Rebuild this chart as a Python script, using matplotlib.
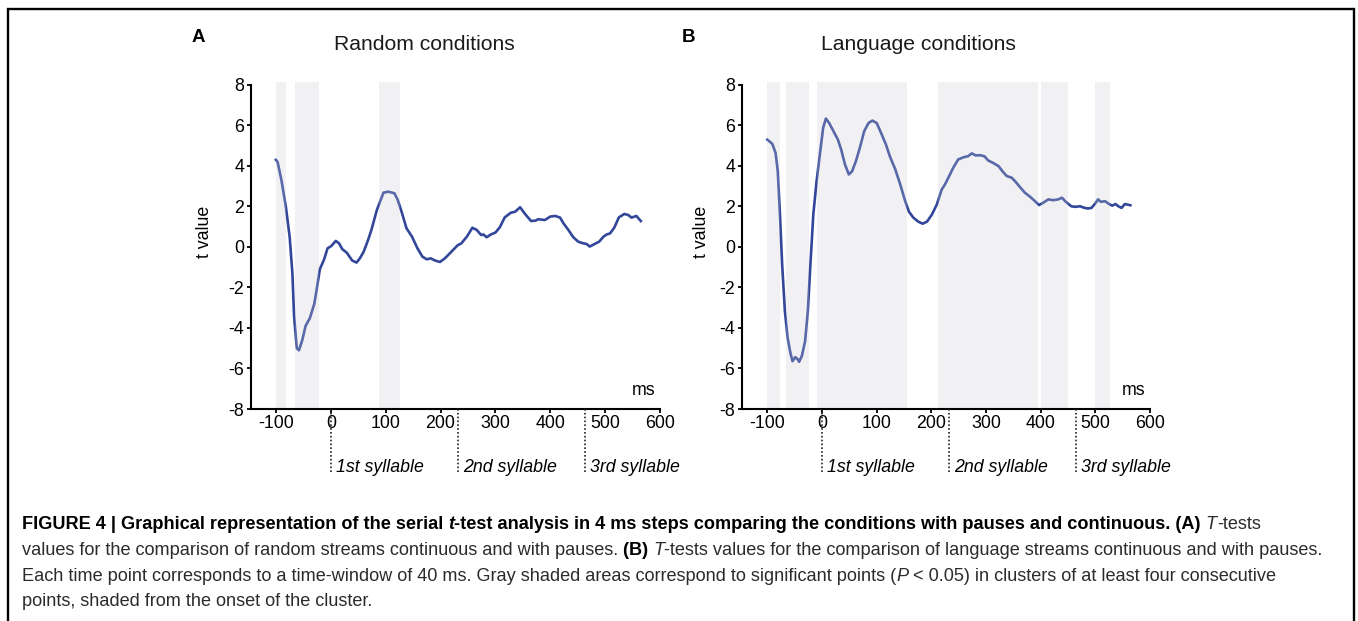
import matplotlib
matplotlib.use('Agg')
import matplotlib.pyplot as plt
from matplotlib.patches import Rectangle
from matplotlib.font_manager import FontProperties

plt.rcParams['font.family'] = ['Liberation Sans', 'DejaVu Sans']

# ---------------- data ----------------
time_A = [-100, -97, -90, -82, -75, -70, -67, -62, -58, -52, -46, -38, -30, -24, -20, -12, -6, 1, 9, 15,
          21, 29, 39, 47, 53, 60, 68, 74, 84, 96, 105, 116, 122, 129, 138, 148, 158, 167, 175, 182,
          190, 199, 208, 220, 231, 238, 248, 258, 266, 274, 278, 284, 292, 300, 308, 317, 328, 336, 345, 354,
          365, 373, 378, 390, 400, 409, 418, 424, 433, 442, 451, 460, 466, 472, 481, 489, 497, 503, 509, 517,
          525, 535, 542, 548, 557, 565]
tval_A = [4.3, 4.2, 3.3, 2.0, 0.5, -1.3, -3.4, -5.0, -5.1, -4.6, -3.9, -3.5, -2.8, -1.8, -1.1, -0.6, -0.07, 0.05, 0.3, 0.18,
          -0.11, -0.28, -0.67, -0.77, -0.56, -0.23, 0.35, 0.84, 1.83, 2.68, 2.73, 2.65, 2.32, 1.74, 0.92, 0.51, -0.07, -0.48, -0.61, -0.56,
          -0.67, -0.74, -0.56, -0.23, 0.08, 0.18, 0.51, 0.95, 0.84, 0.59, 0.62, 0.48, 0.62, 0.71, 0.97, 1.46, 1.69, 1.74, 1.96, 1.63,
          1.28, 1.30, 1.37, 1.33, 1.50, 1.53, 1.45, 1.17, 0.84, 0.48, 0.26, 0.18, 0.15, 0.02, 0.15, 0.26, 0.51, 0.62, 0.67, 0.97,
          1.46, 1.63, 1.58, 1.45, 1.53, 1.28]

time_B = [-100, -91, -85, -81, -77, -73, -68, -63, -58, -54, -49, -44, -42, -37, -31, -26, -22, -16, -10, -4,
          2, 7, 13, 21, 29, 35, 42, 49, 55, 62, 70, 77, 85, 92, 100, 108, 117, 124, 134, 143,
          152, 159, 167, 176, 184, 192, 201, 210, 219, 225, 234, 240, 249, 259, 267, 274, 281, 289, 297, 304,
          313, 323, 330, 338, 347, 354, 362, 371, 381, 388, 397, 405, 414, 423, 432, 439, 446, 456, 463, 472,
          480, 487, 493, 499, 505, 510, 518, 525, 531, 537, 542, 548, 554, 559, 564]
tval_B = [5.3, 5.09, 4.64, 3.74, 1.6, -0.86, -3.17, -4.48, -5.22, -5.64, -5.44, -5.56, -5.67, -5.39, -4.65, -3.17, -1.2, 1.6, 3.25, 4.57,
          5.88, 6.34, 6.12, 5.71, 5.3, 4.81, 4.07, 3.58, 3.74, 4.24, 4.98, 5.71, 6.12, 6.24, 6.12, 5.63, 5.05, 4.48, 3.83, 3.09,
          2.27, 1.74, 1.45, 1.25, 1.15, 1.25, 1.6, 2.1, 2.84, 3.09, 3.58, 3.91, 4.32, 4.43, 4.48, 4.62, 4.52, 4.53, 4.48, 4.27,
          4.15, 3.99, 3.74, 3.5, 3.42, 3.22, 2.96, 2.68, 2.47, 2.3, 2.07, 2.19, 2.35, 2.31, 2.35, 2.43, 2.23, 2.01, 1.98, 2.01,
          1.93, 1.90, 1.93, 2.12, 2.35, 2.23, 2.26, 2.12, 2.04, 2.12, 2.01, 1.93, 2.12, 2.09, 2.06]

clusters_A = [(-100, -82), (-65, -22), (88, 126)]
clusters_B = [(-100, -77), (-66, -24), (-9, 156), (213, 396), (401, 450), (500, 526)]

syllable_onsets = [0, 232, 464]
syllable_labels = ['1st syllable', '2nd syllable', '3rd syllable']
xticks = [-100, 0, 100, 200, 300, 400, 500, 600]
yticks = [-8, -6, -4, -2, 0, 2, 4, 6, 8]

titles = ['Random conditions', 'Language conditions']
panel_letters = ['A', 'B']

# ---------------- figure ----------------
W, H = 1358, 621
fig = plt.figure(figsize=(W / 100, H / 100), dpi=100)

LINE_COLOR = '#32479a'
SHADE_COLOR = '#cbcbd3'


def make_panel(left_px, right_px, xmin, times, vals, clusters, ylab_x):
    top_px, bot_px = 81.7, 409
    ax = fig.add_axes([left_px / W, 1 - bot_px / H, (right_px - left_px) / W, (bot_px - top_px) / H])
    ax.plot(times, vals, color=LINE_COLOR, lw=1.9, zorder=2, solid_joinstyle='round')
    for a, b in clusters:
        ax.axvspan(a, b, color=SHADE_COLOR, alpha=0.25, lw=0, zorder=3)
    ax.set_xlim(xmin, 600)
    ax.set_ylim(-8, 8.16)
    for s in ['top', 'right']:
        ax.spines[s].set_visible(False)
    for s in ['left', 'bottom']:
        ax.spines[s].set_linewidth(1.5)
        ax.spines[s].set_zorder(5)
    ax.spines['left'].set_bounds(-8, 8)
    ax.set_xticks(xticks)
    ax.set_yticks(yticks)
    ax.set_xticklabels([str(v) for v in xticks])
    ax.set_yticklabels([str(v) for v in yticks])
    ax.tick_params(axis='both', direction='out', length=3, width=1.3, labelsize=12.8, pad=1.5, colors='black')
    ax.set_ylabel('t value', fontsize=12.8)
    ax.yaxis.set_label_coords(ylab_x, 0.54)
    ax.text(0.99, 0.055, 'ms', transform=ax.transAxes, ha='right', va='center', fontsize=12.8)
    trans = ax.get_xaxis_transform()
    for x0, lab in zip(syllable_onsets, syllable_labels):
        ax.plot([x0, x0], [0, -0.192], transform=trans, clip_on=False, color='#222222',
                lw=1.2, ls=(0, (1, 1.3)), zorder=6)
        ax.annotate(lab, xy=(x0, -0.18), xycoords=trans, xytext=(3.5, 0), textcoords='offset points',
                    ha='left', va='center', fontsize=12.8, fontstyle='italic', annotation_clip=False)
    return ax


axA = make_panel(250.7, 660, -146, time_A, tval_A, clusters_A, -0.093)
axB = make_panel(741.7, 1150, -147, time_B, tval_B, clusters_B, -0.078)

# titles and letters
fig.text(424 / W, 1 - 44 / H, titles[0], ha='center', va='center', fontsize=15.2, color='#1a1a1a')
fig.text(918.7 / W, 1 - 44 / H, titles[1], ha='center', va='center', fontsize=15.2, color='#1a1a1a')
fig.text(192 / W, 1 - 37 / H, panel_letters[0], ha='left', va='center', fontsize=13.5, fontweight='bold')
fig.text(681.7 / W, 1 - 37 / H, panel_letters[1], ha='left', va='center', fontsize=13.5, fontweight='bold')

# frame
fig.add_artist(Rectangle((8 / W, -0.05), (1354 - 8) / W, 1 - 9 / H + 0.05, transform=fig.transFigure,
                         fill=False, lw=1.7, ec='black'))

# caption (rich text)
CAP_FS = 13.1
CAP_COLOR = '#2b2b2b'
renderer = fig.canvas.get_renderer()


def seg_width(s, weight, style):
    prop = FontProperties(family=['Liberation Sans', 'DejaVu Sans'], size=CAP_FS, weight=weight, style=style)
    w1 = renderer.get_text_width_height_descent(s + '|', prop, ismath=False)[0]
    w2 = renderer.get_text_width_height_descent('|', prop, ismath=False)[0]
    return w1 - w2


def rich_line(y_px, segs, x_px=22):
    x = x_px
    for s, weight, style in segs:
        col = 'black' if weight == 'bold' else CAP_COLOR
        fig.text(x / W, 1 - y_px / H, s, fontsize=CAP_FS, fontweight=weight, fontstyle=style,
                 color=col, ha='left', va='baseline')
        x += seg_width(s, weight, style)


B, I, R = 'bold', 'italic', 'normal'
rich_line(529, [
    ('FIGURE 4 | Graphical representation of the serial ', B, R),
    ('t', B, I),
    ('-test analysis in 4 ms steps comparing the conditions with pauses and continuous. (A) ', B, R),
    ('T', R, I),
    ('-tests', R, R),
])
rich_line(555, [
    ('values for the comparison of random streams continuous and with pauses. ', R, R),
    ('(B) ', B, R),
    ('T', R, I),
    ('-tests values for the comparison of language streams continuous and with pauses.', R, R),
])
rich_line(581, [
    ('Each time point corresponds to a time-window of 40 ms. Gray shaded areas correspond to significant points (', R, R),
    ('P', R, I),
    (' < 0.05) in clusters of at least four consecutive', R, R),
])
rich_line(606, [
    ('points, shaded from the onset of the cluster.', R, R),
])

fig.savefig('out.png', dpi=100)
